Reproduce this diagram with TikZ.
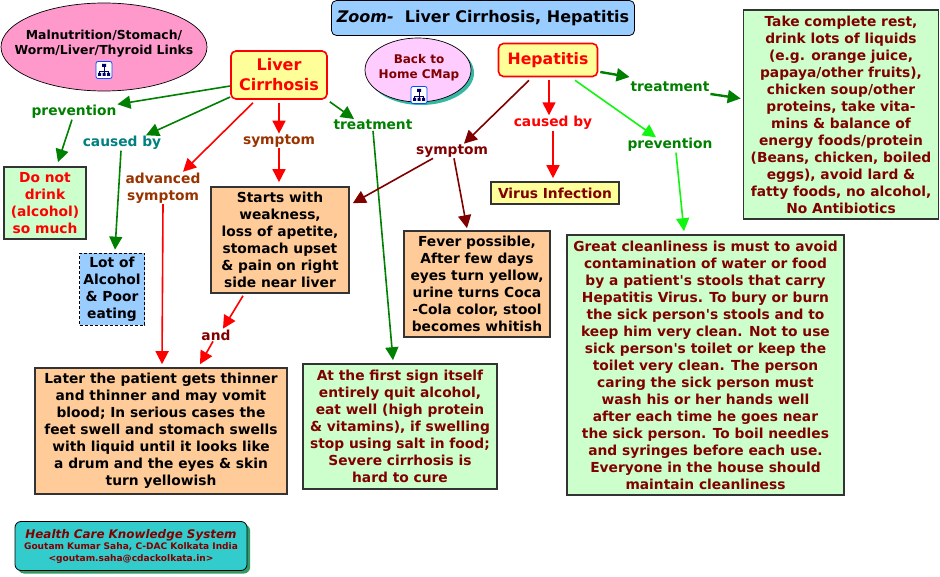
\documentclass[tikz,border=0pt]{standalone}
\usepackage{fontspec}
\setmainfont[Ligatures=TeXOff]{DejaVu Sans}
\usetikzlibrary{arrows.meta,shapes.geometric,shadows}
\definecolor{lblue}{HTML}{99CCFF}
\definecolor{lpink}{HTML}{FF99CC}
\definecolor{lmauve}{HTML}{FFCCFF}
\definecolor{lyellow}{HTML}{FFFF99}
\definecolor{lgreen}{HTML}{CCFFCC}
\definecolor{lorange}{HTML}{FFCC99}
\definecolor{dred}{HTML}{800000}
\definecolor{dgreen}{HTML}{008000}
\definecolor{brgreen}{HTML}{11F511}
\definecolor{brownish}{HTML}{993300}
\definecolor{tealish}{HTML}{008080}
\definecolor{footfill}{HTML}{33CCCC}
\definecolor{footshadow}{HTML}{339966}
\definecolor{boxline}{HTML}{333333}
\tikzset{
  txt/.style={font=\bfseries\fontsize{13.8}{17}\selectfont,align=center,inner sep=0pt},
  linklabel/.style={txt,outer sep=1pt},
  concept/.style={txt,draw=boxline,line width=1.6pt,fill=lgreen},
  maintopic/.style={txt,draw=red,line width=1.6pt,fill=lyellow,rounded corners=5pt,text=red},
  linkline/.style={line width=1.6pt,-{Triangle[length=13pt,width=13pt]}},
  cmapicon/.pic={
    \draw[draw=blue!70!cyan,fill=white,rounded corners=2pt,line width=0.8pt] (-8,-8.5) rectangle (8,8.5);
    \draw[draw=blue!40!black,line width=0.7pt] (0,-3) -- (0,3) (-4.5,3.5) -- (-4.5,1) -- (4.5,1) -- (4.5,3.5);
    \fill[blue!40!black] (-2,-6) rectangle (2,-3) (-6,3) rectangle (-3,6) (-1.5,3) rectangle (1.5,6) (3,3) rectangle (6,6);
  }
}
\begin{document}
\begin{tikzpicture}[x=1pt,y=-1pt]
\useasboundingbox (0,0) rectangle (940,577);
% top of the map
\node[txt,draw=black,line width=0.8pt,fill=lblue,rounded corners=5pt,minimum width=303pt,minimum height=35pt,font=\bfseries\fontsize{16}{19}\selectfont] (title) at (483,18) {\textit{Zoom-}\ \ Liver Cirrhosis, Hepatitis};
\node[txt,ellipse,draw=black,line width=0.7pt,fill=lpink,minimum width=206pt,minimum height=88pt] (links) at (104,47) {};
\node[txt,font=\bfseries\fontsize{12.4}{15}\selectfont] (linkstext) at (104,44) {Malnutrition/Stomach/\\Worm/Liver/Thyroid Links};
\node[txt,ellipse,draw=black,line width=0.7pt,fill=lmauve,minimum width=106pt,minimum height=64pt,copy shadow={shadow xshift=3pt,shadow yshift=-3pt,fill=footfill!60!footshadow,draw=none}] (home) at (418,70) {};
\node[txt,text=dred,font=\bfseries\fontsize{12}{15}\selectfont] (hometext) at (419,68) {Back to\\Home CMap};
\foreach \p in {(104,70),(419,95)}
	\pic at \p {cmapicon};
\node[maintopic,minimum width=96pt,minimum height=48pt,font=\bfseries\fontsize{16}{20}\selectfont] (liver) at (279,75) {Liver\\Cirrhosis};
\node[maintopic,minimum width=99pt,minimum height=33pt,font=\bfseries\fontsize{15.7}{20}\selectfont] (hepatitis) at (548,60) {Hepatitis};
% link labels
\node[linklabel,text=dgreen] (prevleft) at (74,112) {prevention};
\node[linklabel,text=tealish] (causeleft) at (122,143) {caused by};
\node[linklabel,text=brownish] (advanced) at (163,188) {advanced\\symptom};
\node[linklabel,text=brownish] (sympleft) at (279,141) {symptom};
\node[linklabel,text=dgreen] (treatleft) at (373,125) {treatment};
\node[linklabel,text=dred] (sympright) at (452,151) {symptom};
\node[linklabel,text=red] (causeright) at (553,123) {caused by};
\node[linklabel,text=dgreen] (prevright) at (670,145) {prevention};
\node[linklabel,text=dgreen] (treatright) at (670,87) {treatment};
\node[linklabel,text=dred] (andlabel) at (216,335) {and};
% concepts
\node[concept,text=red,minimum width=82pt,minimum height=72pt] (nodrink) at (45,203) {Do not\\drink\\(alcohol)\\so much};
\node[concept,draw=black,line width=0.7pt,densely dashed,fill=lblue,minimum width=65pt,minimum height=72pt] (poor) at (112,289) {Lot of\\Alcohol\\\& Poor\\eating};
\node[concept,fill=lorange,minimum width=138pt,minimum height=106pt] (starts) at (280,240) {Starts with\\weakness,\\loss of apetite,\\stomach upset\\\& pain on right\\side near liver};
\node[concept,fill=lorange,minimum width=146pt,minimum height=106pt] (fever) at (477,284) {Fever possible,\\After few days\\eyes turn yellow,\\urine turns Coca\\-Cola color, stool\\becomes whitish};
\node[concept,fill=lyellow,text=dred,minimum width=128pt,minimum height=22pt] (virus) at (555,193) {Virus Infection};
\node[concept,fill=lorange,minimum width=252pt,minimum height=126pt] (later) at (161,431) {Later the patient gets thinner\\and thinner and may vomit\\blood; In serious cases the\\feet swell and stomach swells\\with liquid until it looks like\\a drum and the eyes \& skin\\turn yellowish};
\node[concept,text=dred,minimum width=194pt,minimum height=125pt] (firstsign) at (400,426.5) {At the first sign itself\\entirely quit alcohol,\\eat well (high protein\\\& vitamins), if swelling\\stop using salt in food;\\Severe cirrhosis is\\hard to cure};
\node[concept,text=dred,minimum width=277pt,minimum height=260pt] (clean) at (705.5,365) {Great cleanliness is must to avoid\\contamination of water or food\\by a patient's stools that carry\\Hepatitis Virus. To bury or burn\\the sick person's stools and to\\keep him very clean. Not to use\\sick person's toilet or keep the\\toilet very clean. The person\\caring the sick person must\\wash his or her hands well\\after each time he goes near\\the sick person. To boil needles\\and syringes before each use.\\Everyone in the house should\\maintain cleanliness};
\node[concept,text=dred,minimum width=195pt,minimum height=209pt] (rest) at (841,114.5) {Take complete rest,\\drink lots of liquids\\(e.g. orange juice,\\papaya/other fruits),\\chicken soup/other\\proteins, take vita-\\mins \& balance of\\energy foods/protein\\(Beans, chicken, boiled\\eggs), avoid lard \&\\fatty foods, no alcohol,\\No Antibiotics};
% footer
\node[txt,draw=black,line width=0.8pt,fill=footfill,rounded corners=6pt,minimum width=232pt,minimum height=49pt,text=dred,copy shadow={shadow xshift=3pt,shadow yshift=-3pt,fill=footshadow,draw=none},font=\bfseries\fontsize{9.06}{11.5}\selectfont] (footer) at (131,546) {{\fontsize{11.9}{14}\selectfont\itshape Health Care Knowledge System}\\Goutam Kumar Saha, C-DAC Kolkata India\\<goutam.saha@cdackolkata.in>};
% links on the left
\draw[linkline,dgreen] ([yshift=-11pt]liver.west) -- (prevleft.north east);
\draw[linkline,dgreen] ([yshift=-22pt]liver.west) -- ([xshift=24pt]causeleft.north);
\draw[linkline,red] ([xshift=-26pt,yshift=-3pt]liver.south) -- ([xshift=20pt]advanced.north);
\draw[linkline,red] ([yshift=-3pt]liver.south) -- (sympleft.north);
\draw[linkline,dgreen] ([xshift=2pt,yshift=-2pt]liver.south east) -- ([xshift=-19pt]treatleft.north);
\draw[linkline,dgreen] ([xshift=-2pt]prevleft.south) -- ([xshift=13pt,yshift=4pt]nodrink.north);
\draw[linkline,dgreen] ([xshift=-1pt]causeleft.south) -- ([xshift=3pt,yshift=3pt]poor.north);
\draw[linkline,red] (advanced.south) -- ([xshift=1pt,yshift=3pt]later.north);
\draw[linkline,red] (sympleft.south) -- ([xshift=-1pt,yshift=4pt]starts.north);
\draw[linkline,red] ([xshift=-37pt,yshift=-2pt]starts.south) -- ([xshift=7pt]andlabel.north);
\draw[linkline,red] ([xshift=-3pt]andlabel.south) -- ([xshift=39pt,yshift=3pt]later.north);
\draw[linkline,dgreen] (treatleft.south) -- ([xshift=-7pt,yshift=3pt]firstsign.north);
% links on the right
\draw[linkline,dred] ([xshift=-19pt,yshift=-3pt]hepatitis.south) -- ([xshift=12pt]sympright.north);
\draw[linkline,dred] ([xshift=-19pt]sympright.south) -- ([xshift=3pt,yshift=-17pt]starts.north east);
\draw[linkline,dred] ([xshift=2pt]sympright.south) -- ([xshift=-10pt,yshift=2pt]fever.north);
\draw[linkline,red] ([xshift=1pt,yshift=-3pt]hepatitis.south) -- ([xshift=-4pt]causeright.north);
\draw[linkline,red] (causeright.south) -- ([xshift=-2pt,yshift=3pt]virus.north);
\draw[linkline,brgreen] ([xshift=27pt,yshift=-3pt]hepatitis.south) -- ([xshift=-14pt]prevright.north);
\draw[linkline,brgreen] ([xshift=6pt]prevright.south) -- ([xshift=-21.5pt,yshift=3pt]clean.north);
\draw[linkline,dgreen,line width=2.4pt] ([xshift=2pt,yshift=-12pt]hepatitis.east) -- ([yshift=10pt]treatright.west);
\draw[linkline,dgreen,line width=2.4pt] ([yshift=-7pt]treatright.east) -- ([xshift=-2pt,yshift=16pt]rest.west);
\end{tikzpicture}
\end{document}
